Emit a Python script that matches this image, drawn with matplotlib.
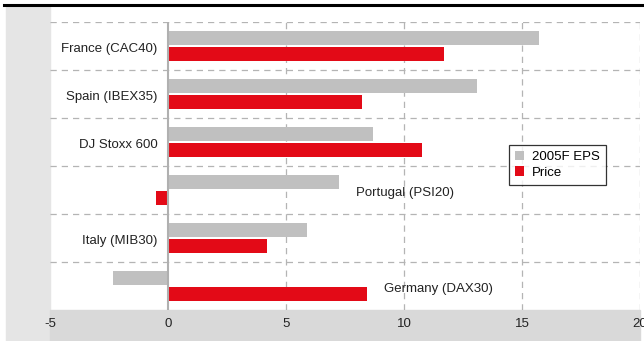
import matplotlib.pyplot as plt
import matplotlib.patches as mpatches
from matplotlib.lines import Line2D
import numpy as np

plt.rcParams['font.family'] = ['Liberation Sans', 'DejaVu Sans']

# データ
categories = ['France (CAC40)', 'Spain (IBEX35)', 'DJ Stoxx 600',
              'Portugal (PSI20)', 'Italy (MIB30)', 'Germany (DAX30)']
eps_2005f = [15.7, 13.1, 8.7, 7.25, 5.9, -2.35]
price = [11.7, 8.2, 10.75, -0.5, 4.2, 8.45]
xticks = [-5, 0, 5, 10, 15, 20]

grey = '#c0c0c0'
red = '#e30a17'
W, H = 644, 341
fs = 9.5

fig = plt.figure(figsize=(W / 100, H / 100), dpi=100)
fig.patch.set_facecolor('white')

# 左の灰色パネルと下の帯
fig.add_artist(mpatches.Rectangle((6 / W, 0), 44 / W, 1 - 7 / H,
                                  transform=fig.transFigure, color='#e5e5e5', zorder=0))
fig.add_artist(mpatches.Rectangle((50 / W, 0), 590 / W, 31 / H,
                                  transform=fig.transFigure, color='#d9d9d9', zorder=0))
# 上の黒線
fig.add_artist(Line2D([4 / W, 1], [1 - 5 / H, 1 - 5 / H], transform=fig.transFigure,
                      color='black', lw=2.2))

ax = fig.add_axes([50 / W, 31 / H, 590 / W, 288 / H])
ax.set_facecolor('none')

y = np.arange(len(categories))
h = 0.29
ax.barh(y - 0.17, eps_2005f, height=h, color=grey, label='2005F EPS', zorder=2)
ax.barh(y + 0.17, price, height=h, color=red, label='Price', zorder=2)

ax.set_xlim(-5, 20)
ax.set_ylim(len(categories) - 0.5, -0.5)

# 破線グリッド
for yy in np.arange(-0.5, len(categories) - 0.5, 1.0):
    ax.axhline(yy, color='#b4b4b4', lw=0.9, ls=(0, (5, 4)), zorder=1)
for xx in [5, 10, 15, 20]:
    ax.axvline(xx, color='#b4b4b4', lw=0.9, ls=(0, (5, 4)), zorder=1)
ax.axvline(0, color='#b0b0b0', lw=1.5, zorder=3)

# カテゴリラベル
for i, name in enumerate(categories):
    if eps_2005f[i] < 0 or price[i] < 0:
        x0 = max(eps_2005f[i], price[i]) + 0.7
        ax.text(x0, i + 0.07, name, ha='left', va='center', fontsize=fs, color='#222222')
    else:
        ax.text(-0.45, i + 0.07, name, ha='right', va='center', fontsize=fs, color='#222222')

ax.set_xticks(xticks)
ax.set_xticklabels([str(t) for t in xticks], fontsize=fs, color='#222222')
ax.tick_params(axis='x', length=0, pad=6)
ax.set_yticks([])
for s in ax.spines.values():
    s.set_visible(False)

leg = ax.legend(loc='upper left', bbox_to_anchor=((509 - 50) / 590, (310 - 145) / 288),
                fontsize=fs, frameon=True, fancybox=False, handlelength=0.7,
                handleheight=0.7, handletextpad=0.6, borderpad=0.45, labelspacing=0.25,
                borderaxespad=0)
leg.get_frame().set_edgecolor('black')
leg.get_frame().set_linewidth(0.9)

fig.savefig('out.png', dpi=100)
